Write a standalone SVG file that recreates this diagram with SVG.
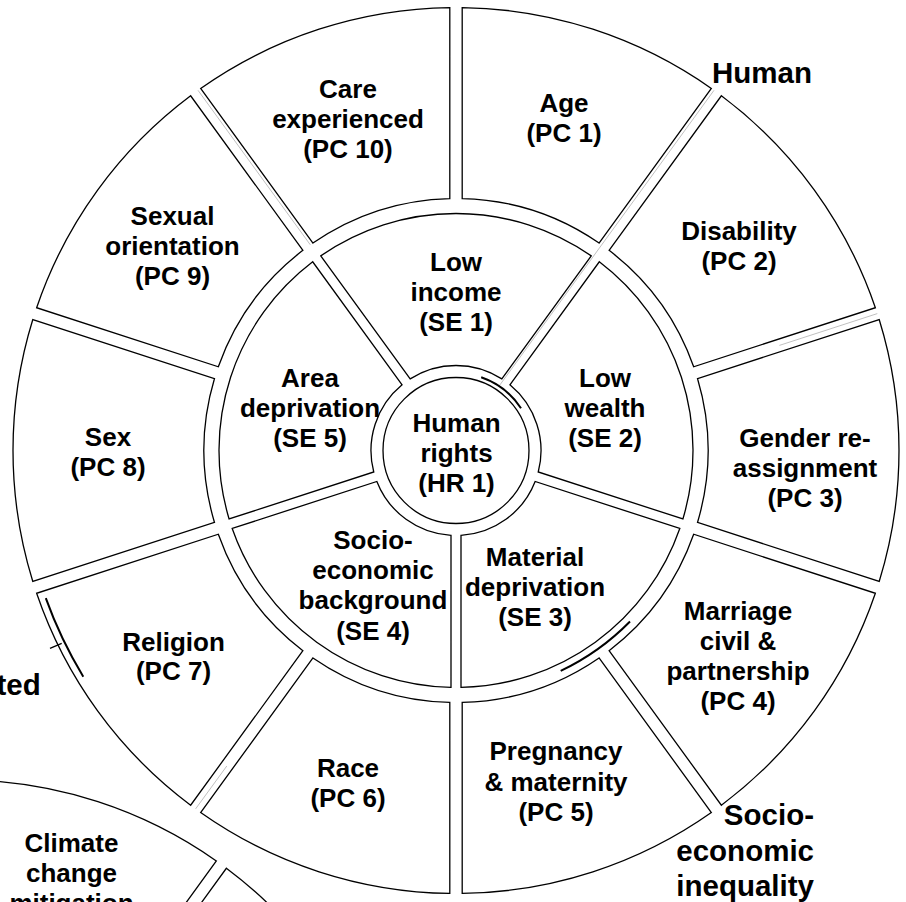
<svg xmlns="http://www.w3.org/2000/svg" width="906" height="902" viewBox="0 0 906 902">
<style>
.seg{fill:#fff;stroke:#000;stroke-width:1.3}
.lbl{font-family:"Liberation Sans",Arial,sans-serif;font-weight:bold;font-size:26px;text-anchor:middle;fill:#000}
.big{font-family:"Liberation Sans",Arial,sans-serif;font-weight:bold;font-size:29.5px;text-anchor:end;fill:#000}
.mark{fill:none;stroke:#000;stroke-width:2}
.faint{fill:none;stroke:#b0b0b0;stroke-width:0.8}
</style>
<rect width="906" height="902" fill="#fff"/>
<g id="wheel2">
  <g id="climate">
    <path class="seg" d="M -32.8,780.04 A443,443 0 0 1 216.35,861 L 104.06,1015.55 A252,252 0 0 0 -32.8,971.08 Z"/>
    <text class="lbl"><tspan x="71.5" y="852">Climate</tspan><tspan x="71.5" y="882">change</tspan><tspan x="71.5" y="912">mitigation</tspan></text>
  </g>
  <g id="w2seg2">
    <path class="seg" d="M 226.38,868.29 A443,443 0 0 1 380.36,1080.22 L 198.68,1139.25 A252,252 0 0 0 114.09,1022.83 Z"/>
  </g>
</g>
<g id="outer">
  <g id="pc1"><path class="seg" d="M 462.2,7.543 A443,443 0 0 1 711.347,88.496 L 599.061,243.045 A252,252 0 0 0 462.2,198.576 Z"/>
    <text class="lbl"><tspan x="564" y="112">Age</tspan><tspan x="564" y="142">(PC 1)</tspan></text></g>
  <g id="pc2"><path class="seg" d="M 721.379,95.785 A443,443 0 0 1 875.361,307.723 L 693.678,366.754 A252,252 0 0 0 609.093,250.333 Z"/>
    <text class="lbl"><tspan x="739" y="240">Disability</tspan><tspan x="739" y="270">(PC 2)</tspan></text></g>
  <g id="pc3"><path class="seg" d="M 879.193,319.516 A443,443 0 0 1 879.193,581.484 L 697.51,522.452 A252,252 0 0 0 697.51,378.548 Z"/>
    <text class="lbl"><tspan x="805" y="446.5">Gender re-</tspan><tspan x="805" y="476.5">assignment</tspan><tspan x="805" y="506.5">(PC 3)</tspan></text></g>
  <g id="pc4"><path class="seg" d="M 875.361,593.278 A443,443 0 0 1 721.379,805.216 L 609.093,650.667 A252,252 0 0 0 693.678,534.246 Z"/>
    <text class="lbl"><tspan x="738" y="620">Marriage</tspan><tspan x="738" y="650">civil &amp;</tspan><tspan x="738" y="680">partnership</tspan><tspan x="738" y="710">(PC 4)</tspan></text></g>
  <g id="pc5"><path class="seg" d="M 711.347,812.504 A443,443 0 0 1 462.2,893.457 L 462.2,702.424 A252,252 0 0 0 599.061,657.955 Z"/>
    <text class="lbl"><tspan x="556" y="760">Pregnancy</tspan><tspan x="556" y="791">&amp; maternity</tspan><tspan x="556" y="821">(PC 5)</tspan></text></g>
  <g id="pc6"><path class="seg" d="M 449.8,893.457 A443,443 0 0 1 200.653,812.504 L 312.939,657.955 A252,252 0 0 0 449.8,702.424 Z"/>
    <text class="lbl"><tspan x="348" y="777">Race</tspan><tspan x="348" y="807">(PC 6)</tspan></text></g>
  <g id="pc7"><path class="seg" d="M 190.621,805.216 A443,443 0 0 1 36.639,593.278 L 218.322,534.246 A252,252 0 0 0 302.907,650.667 Z"/>
    <text class="lbl"><tspan x="173.5" y="651">Religion</tspan><tspan x="173.5" y="680">(PC 7)</tspan></text></g>
  <g id="pc8"><path class="seg" d="M 32.807,581.484 A443,443 0 0 1 32.807,319.516 L 214.49,378.548 A252,252 0 0 0 214.49,522.452 Z"/>
    <text class="lbl"><tspan x="108" y="446">Sex</tspan><tspan x="108" y="476">(PC 8)</tspan></text></g>
  <g id="pc9"><path class="seg" d="M 36.639,307.723 A443,443 0 0 1 190.621,95.785 L 302.907,250.333 A252,252 0 0 0 218.322,366.754 Z"/>
    <text class="lbl"><tspan x="172.5" y="225">Sexual</tspan><tspan x="172.5" y="255">orientation</tspan><tspan x="172.5" y="285">(PC 9)</tspan></text></g>
  <g id="pc10"><path class="seg" d="M 200.653,88.496 A443,443 0 0 1 449.8,7.543 L 449.8,198.576 A252,252 0 0 0 312.939,243.045 Z"/>
    <text class="lbl"><tspan x="348" y="98">Care</tspan><tspan x="348" y="128">experienced</tspan><tspan x="348" y="158">(PC 10)</tspan></text></g>
</g>
<g id="middle">
  <g id="se1"><path class="seg" d="M 320.771,255.867 A237,237 0 0 1 591.229,255.867 L 501.83,378.913 A85,85 0 0 0 410.17,378.913 Z"/>
    <text class="lbl"><tspan x="456" y="271">Low</tspan><tspan x="456" y="301">income</tspan><tspan x="456" y="331">(SE 1)</tspan></text></g>
  <g id="se2"><path class="seg" d="M 599.319,261.745 A237,237 0 0 1 682.895,518.966 L 538.245,471.966 A85,85 0 0 0 509.92,384.791 Z"/>
    <text class="lbl"><tspan x="605" y="387">Low</tspan><tspan x="605" y="417">wealth</tspan><tspan x="605" y="447">(SE 2)</tspan></text></g>
  <g id="se3"><path class="seg" d="M 679.805,528.476 A237,237 0 0 1 461,687.447 L 461,535.353 A85,85 0 0 0 535.155,481.476 Z"/>
    <text class="lbl"><tspan x="535" y="566">Material</tspan><tspan x="535" y="596">deprivation</tspan><tspan x="535" y="626">(SE 3)</tspan></text></g>
  <g id="se4"><path class="seg" d="M 451,687.447 A237,237 0 0 1 232.195,528.476 L 376.845,481.476 A85,85 0 0 0 451,535.353 Z"/>
    <text class="lbl"><tspan x="373" y="549">Socio-</tspan><tspan x="373" y="579">economic</tspan><tspan x="373" y="609">background</tspan><tspan x="373" y="640">(SE 4)</tspan></text></g>
  <g id="se5"><path class="seg" d="M 229.105,518.966 A237,237 0 0 1 312.681,261.745 L 402.08,384.791 A85,85 0 0 0 373.755,471.966 Z"/>
    <text class="lbl"><tspan x="310" y="387">Area</tspan><tspan x="310" y="417">deprivation</tspan><tspan x="310" y="447">(SE 5)</tspan></text></g>
</g>
<g id="hr1">
  <circle class="seg" cx="456" cy="450.5" r="73"/>
  <text class="lbl"><tspan x="456.5" y="432">Human</tspan><tspan x="456.5" y="462">rights</tspan><tspan x="456.5" y="492">(HR 1)</tspan></text>
</g>
<g id="connectors">
  <path class="faint" d="M 499.4,385.6 L 714,90.3"/>
  <path class="faint" d="M 310.3,244.8 L 198,90.3"/>
  <path class="faint" d="M 877.3,313.6 L 779.4,345.4"/>
  <path class="faint" d="M 195.6,808.9 L 226.8,766"/>
  <path class="mark" d="M 481.2,377.2 A77.5,77.5 0 0 1 521,408.3"/>
  <path class="mark" d="M 630,621.5 A244,244 0 0 1 560.7,670.9"/>
  <path class="mark" stroke-width="1.8" d="M 83.3,676.7 A436,436 0 0 1 45.8,598.2"/>
  <path class="seg" d="M 50,648.3 L 61.7,643.3"/>
</g>
<g id="labels">
  <text class="big" x="812" y="82.5">Human</text>
  <text class="big"><tspan x="814" y="825">Socio-</tspan><tspan x="814" y="861">economic</tspan><tspan x="814" y="896">inequality</tspan></text>
  <text class="big" x="40.7" y="695">ted</text>
</g>
</svg>
